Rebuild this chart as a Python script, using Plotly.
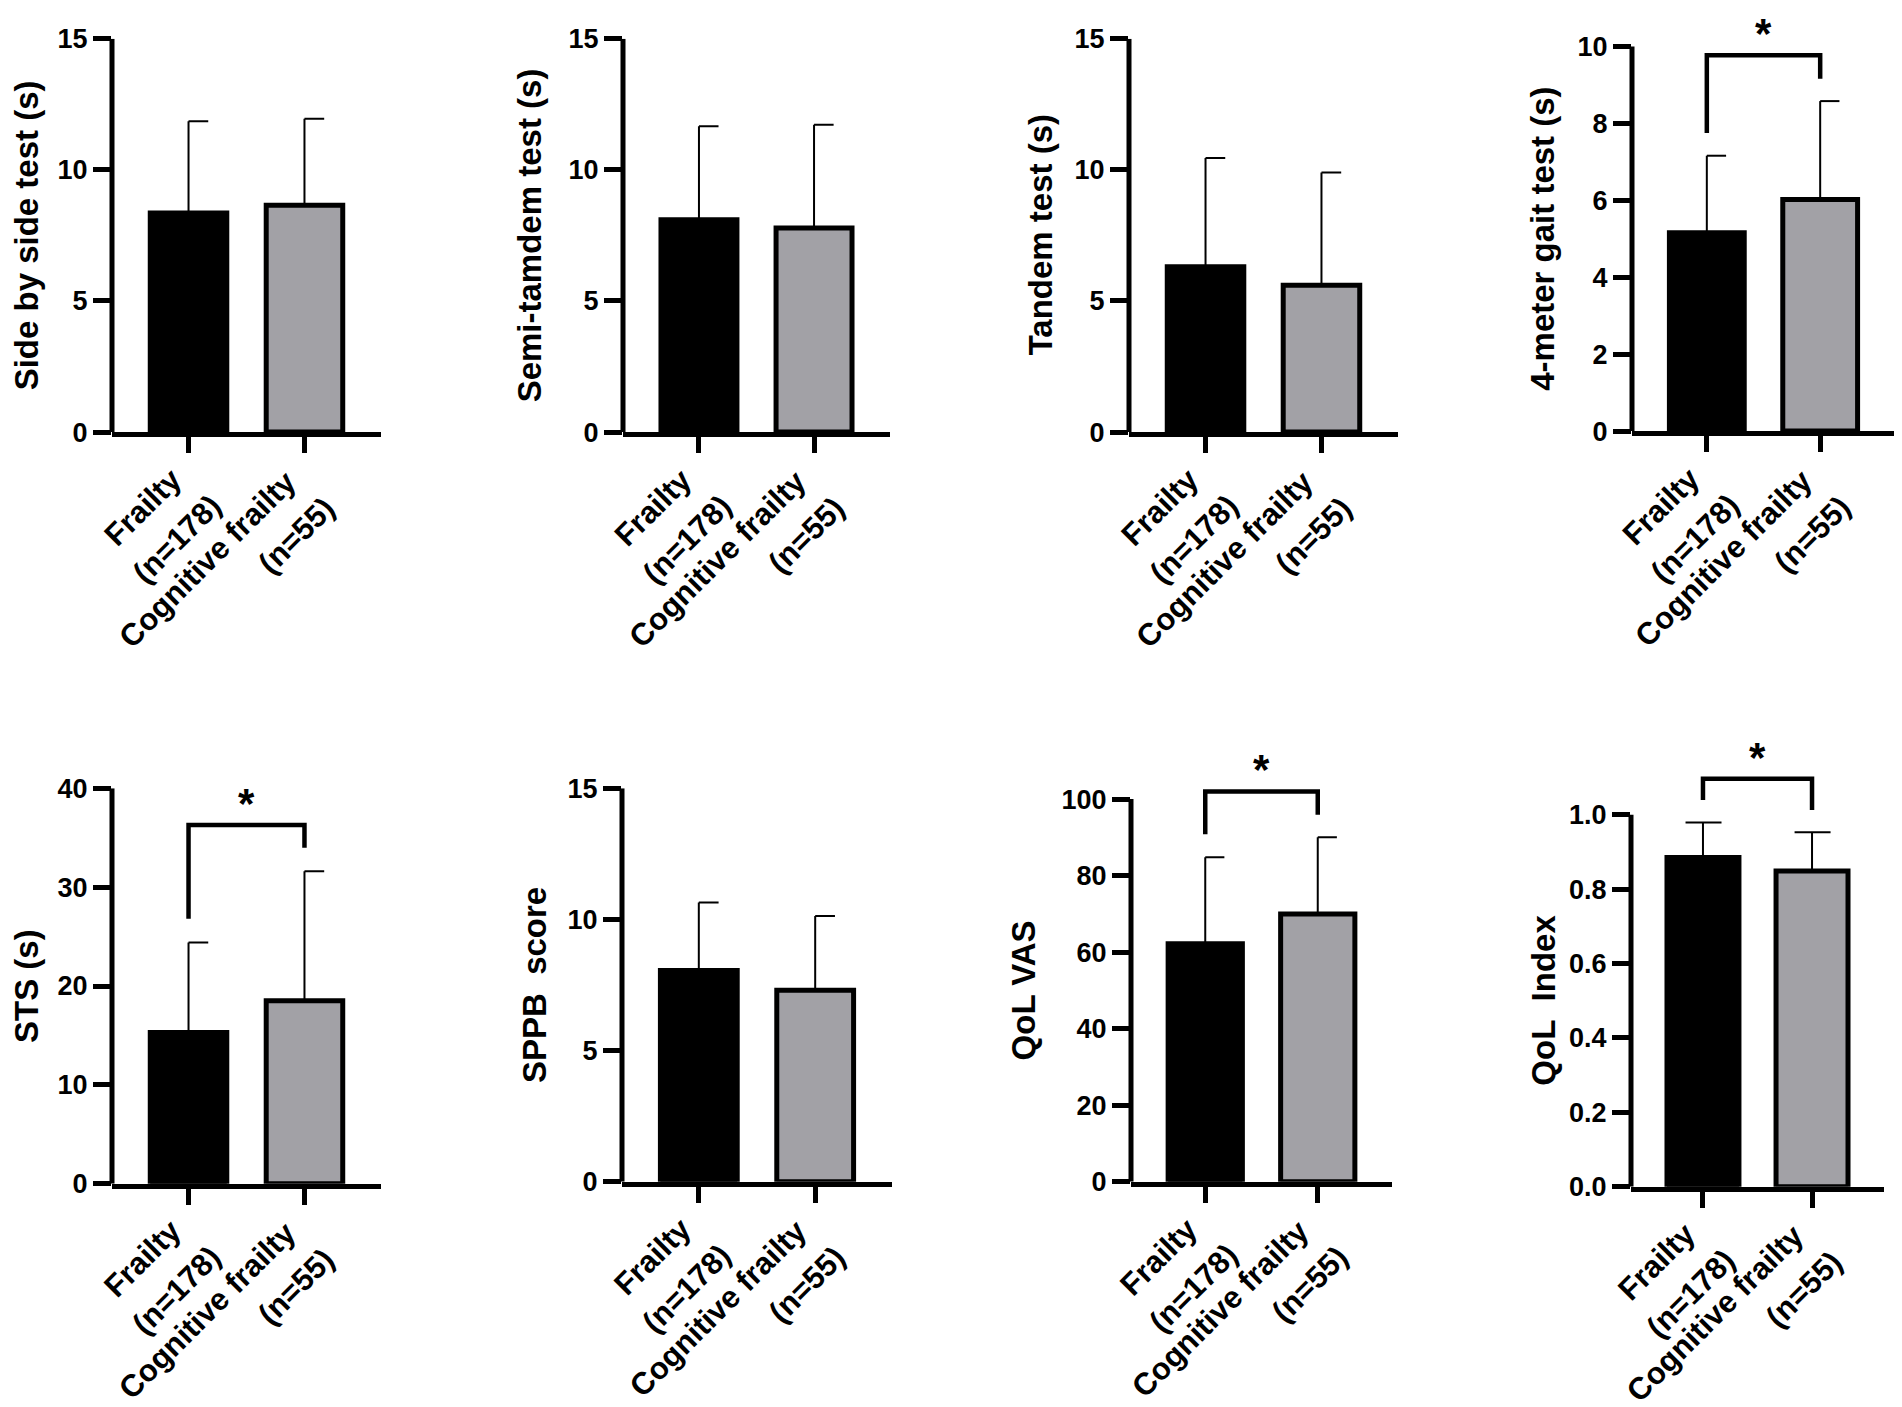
import plotly.graph_objects as go

# group labels (two lines each) and panel titles
group_lines = [["Frailty", "(n=178)"], ["Cognitive frailty", "(n=55)"]]
titles = ["Side by side test (s)", "Semi-tamdem test (s)", "Tandem test (s)",
          "4-meter gait test (s)", "STS (s)", "SPPB\u00a0\u00a0score", "QoL VAS",
          "QoL\u00a0\u00a0Index"]

# mean values (Frailty, Cognitive frailty) and their SD
means = [[8.35, 8.65], [8.1, 7.78], [6.3, 5.6], [5.16, 6.02],
         [15.3, 18.5], [8.05, 7.3], [62.2, 70.0], [0.885, 0.849]]
sds = [[3.5, 3.3], [3.56, 3.94], [4.15, 4.3], [2.0, 2.56],
       [9.1, 13.1], [2.6, 2.83], [22.6, 20.0], [0.094, 0.104]]

y_max = [15, 15, 15, 10, 40, 15, 100, 1.0]
y_step = [5, 5, 5, 2, 10, 5, 20, 0.2]

# significance brackets (panel, bracket level, left leg end, right leg end)
sig_panels = [3, 4, 6, 7]
sig_level = [9.77, 36.3, 102, 1.097]
sig_left = [7.75, 26.8, 90.8, 1.04]
sig_right = [9.16, 34.0, 95.9, 1.013]

W, H = 1902, 1407
OFF = 8  # default page margin of the html body
GRAY = "#a2a1a6"
FONT = "Liberation Sans, Arial, sans-serif"

# pixel box of each panel: y-axis x, x-axis end, top-tick y, zero y
boxes = [(112, 381, 24, 426), (623, 890, 24, 426), (1129, 1398, 24, 426),
         (1632, 1895, 32, 425), (112, 381, 790, 1194), (622, 892, 790, 1192),
         (1131, 1392, 801, 1192), (1631, 1884, 817, 1197)]
title_gap = [86, 94, 89, 89, 86, 88, 108, 87]
cap_left = [0, 0, 0, 0, 0, 0, 0, 0.16]
# centre offset (px) of each rotated label line from its tick at the axis
label_shift = [[(-46, -75), (-12, -107)], [(-97, -127), (-8, -103)]]

fig = go.Figure()
annotations = []
shapes = []
layout = {}

for i in range(8):
    n = "" if i == 0 else str(i + 1)
    xa, ya = "x" + n, "y" + n
    left, right, top, zero = [v - OFF for v in boxes[i]]

    # room above the axis for the significance bracket
    r_top = y_max[i]
    if i in sig_panels:
        r_top = max(r_top, sig_level[sig_panels.index(i)] * 1.03)
    top_px = zero - (zero - top) * r_top / y_max[i]

    fig.add_trace(go.Bar(
        x=[0, 1], y=means[i], width=0.66, xaxis=xa, yaxis=ya, showlegend=False,
        marker=dict(color=["black", GRAY], line=dict(color="black", width=5)),
    ))

    ex, ey = [], []
    for j in range(2):
        t = means[i][j] + sds[i][j]
        ex += [j, j, None, j - cap_left[i], j + 0.17, None]
        ey += [means[i][j], t, None, t, t, None]
    fig.add_trace(go.Scatter(x=ex, y=ey, mode="lines", xaxis=xa, yaxis=ya,
                             line=dict(color="black", width=2), showlegend=False,
                             hoverinfo="skip"))

    if i in sig_panels:
        k = sig_panels.index(i)
        fig.add_trace(go.Scatter(
            x=[0, 0, 1, 1], y=[sig_left[k], sig_level[k], sig_level[k], sig_right[k]],
            mode="lines", xaxis=xa, yaxis=ya, line=dict(color="black", width=4.5),
            showlegend=False, hoverinfo="skip"))
        annotations.append(dict(
            text="*", x=0.5, y=sig_level[k], xref=xa, yref=ya, showarrow=False,
            xanchor="center", yanchor="bottom", yshift=-4,
            font=dict(family=FONT, size=42, color="black", weight="bold")))

    for j in range(2):
        for l in range(2):
            annotations.append(dict(
                text=group_lines[j][l], x=j, y=0, xref=xa, yref=ya, showarrow=False,
                textangle=-45, xanchor="center", yanchor="middle",
                xshift=label_shift[j][l][0], yshift=label_shift[j][l][1],
                font=dict(family=FONT, size=31, color="black", weight="bold")))

    annotations.append(dict(
        text=titles[i], x=0, y=0.5 * y_max[i] / r_top, xref=xa + " domain",
        yref=ya + " domain", showarrow=False, textangle=-90, xanchor="center",
        yanchor="middle", xshift=-title_gap[i],
        font=dict(family=FONT, size=33, color="black", weight="bold")))

    # y axis line only up to the last tick
    shapes.append(dict(type="line", xref=xa + " domain", yref=ya, x0=0, x1=0,
                       y0=0, y1=y_max[i], line=dict(color="black", width=5)))

    n_ticks = int(round(y_max[i] / y_step[i]))
    layout["xaxis" + n] = dict(
        domain=[left / W, right / W], range=[-0.66, 1.66], anchor=ya,
        showgrid=False, zeroline=False, showline=True, linewidth=5, linecolor="black",
        ticks="outside", tickvals=[0, 1], ticklen=16, tickwidth=5, tickcolor="black",
        showticklabels=False, fixedrange=True)
    layout["yaxis" + n] = dict(
        domain=[1 - zero / H, 1 - top_px / H], range=[0, r_top], anchor=xa,
        showgrid=False, zeroline=False, showline=False,
        ticks="outside", tickvals=[k * y_step[i] for k in range(n_ticks + 1)],
        ticklen=18, tickwidth=5, tickcolor="black",
        tickformat=".1f" if i == 7 else "",
        tickfont=dict(family=FONT, size=27, color="black", weight="bold"),
        fixedrange=True)

fig.update_layout(
    width=W, height=H, margin=dict(l=0, r=0, t=0, b=0),
    plot_bgcolor="white", paper_bgcolor="white",
    font=dict(family=FONT, color="black", weight="bold"),
    annotations=annotations, shapes=shapes, showlegend=False, **layout)

fig.write_html("out.html")
